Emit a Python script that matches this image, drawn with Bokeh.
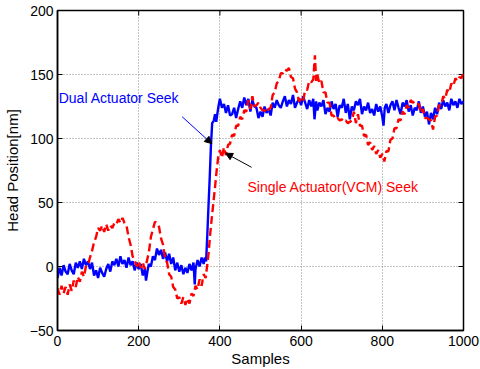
import math
from bokeh.plotting import figure
from bokeh.models import (ColumnDataSource, LinearAxis, FixedTicker, Label, Arrow,
                          NormalHead, Range1d)
from bokeh.embed import file_html
from bokeh.resources import INLINE

# ---------------- data ----------------
dual_x = [0, 5, 10, 15, 20, 25, 30, 35, 40, 45, 50, 55, 60, 65, 70, 75, 80, 85, 90, 95,
          100, 105, 110, 115, 120, 125, 130, 135, 140, 145, 150, 155, 160, 165, 170, 175,
          180, 185, 190, 195, 200, 205, 210, 215, 218, 222, 225, 230, 235, 240, 245, 250,
          255, 260, 265, 270, 275, 280, 285, 290, 295, 300, 305, 310, 315, 320, 325, 330,
          335, 338, 340, 345, 350, 355, 360, 363, 366, 369, 372, 375, 378, 381, 385, 388,
          391, 394, 397, 400, 405, 410, 415, 420, 425, 430, 435, 440, 445, 450, 455, 460,
          465, 470, 475, 480, 485, 490, 495, 500, 505, 510, 515, 520, 525, 530, 535, 540,
          545, 550, 555, 560, 565, 570, 575, 580, 585, 590, 595, 600, 605, 610, 615, 620,
          625, 630, 633, 637, 640, 645, 650, 655, 660, 665, 670, 675, 680, 685, 690, 695,
          700, 705, 710, 715, 720, 725, 730, 735, 740, 745, 750, 755, 760, 765, 770, 775,
          780, 785, 790, 795, 800, 803, 806, 810, 815, 820, 825, 830, 835, 840, 845, 850,
          855, 860, 865, 870, 875, 880, 885, 890, 895, 900, 905, 910, 915, 920, 925, 930,
          935, 940, 945, 950, 955, 960, 965, 970, 975, 980, 985, 990, 995, 1000]
dual_y = [-9, -1, -7, 1, -4, -6, 2, -3, -6, 3, -1, 4, -2, 6, 1, 4, -2, 3, -7, -3,
          -9, -1, -5, -8, -2, 2, -4, 4, 1, 6, 0, 8, 2, 5, -1, 7,
          1, 4, -3, 3, -2, 2, -7, -2, -11, -3, 2, 0, 8, 5, 14, 9,
          13, 6, 11, 4, 10, 2, 7, -3, 3, -4, 1, -6, -1, -5, 2, -3,
          3, -14, -2, 5, 0, 7, 2, 7, 4, 25, 48, 70, 95, 112, 114, 119,
          113, 120, 126, 131, 124, 127, 120, 126, 118, 119, 124, 116, 123, 129, 124, 132,
          126, 131, 121, 130, 125, 124, 116, 121, 117, 125, 120, 123, 118, 128, 124, 130,
          126, 124, 129, 133, 125, 130, 127, 134, 124, 128, 131, 126, 133, 128, 123, 130,
          125, 131, 115, 129, 122, 128, 125, 130, 119, 124, 121, 129, 123, 127, 117, 126,
          124, 131, 120, 127, 115, 125, 122, 129, 126, 131, 119, 125, 122, 128, 120, 123,
          118, 127, 121, 125, 117, 110, 124, 127, 120, 126, 129, 122, 130, 124, 119, 128,
          125, 130, 121, 126, 118, 124, 122, 129, 120, 125, 117, 121, 111, 120, 115, 124,
          119, 128, 123, 130, 125, 128, 122, 131, 126, 129, 124, 131, 127, 129]

single_x = [0, 5, 10, 15, 20, 25, 30, 35, 40, 45, 50, 55, 60, 65, 70, 75, 80, 85, 90, 95,
            100, 105, 110, 115, 120, 125, 130, 135, 140, 145, 150, 155, 160, 165, 170, 175,
            180, 185, 190, 195, 200, 205, 210, 215, 220, 225, 230, 235, 240, 245, 250, 255,
            260, 265, 270, 275, 280, 285, 290, 295, 300, 305, 310, 315, 320, 325, 330, 335,
            340, 345, 350, 355, 360, 365, 368, 372, 376, 380, 384, 388, 392, 396, 400, 405,
            410, 415, 420, 425, 430, 435, 440, 445, 450, 455, 460, 465, 470, 475, 480, 485,
            490, 495, 500, 505, 510, 515, 520, 525, 530, 535, 540, 545, 550, 555, 560, 565,
            570, 575, 580, 585, 590, 595, 600, 605, 610, 615, 620, 625, 630, 634, 637, 640,
            645, 650, 655, 660, 665, 670, 675, 680, 685, 690, 695, 700, 705, 710, 715, 720,
            725, 730, 735, 740, 745, 750, 755, 760, 765, 770, 775, 780, 785, 790, 795, 800,
            805, 810, 815, 820, 825, 830, 835, 840, 845, 850, 855, 860, 865, 870, 875, 880,
            885, 890, 895, 900, 905, 910, 915, 920, 925, 930, 935, 940, 945, 950, 955, 960,
            965, 970, 975, 980, 985, 990, 995, 1000]
single_y = [-17, -22, -15, -21, -16, -22, -14, -19, -11, -16, -8, -12, -4, -8, 0, 1, 7, 12, 19, 23,
            30, 28, 32, 27, 33, 28, 32, 30, 34, 33, 37, 34, 38, 34, 32, 23,
            17, 8, 5, 0, 4, -1, 3, -2, 4, 11, 23, 29, 35, 34, 31, 22,
            17, 6, 3, -6, -8, -16, -18, -25, -24, -29, -24, -30, -25, -29, -21, -23,
            -15, -18, -10, -15, -6, -9, -1, 10, 25, 38, 50, 62, 75, 86, 91, 85,
            93, 87, 95, 96, 103, 102, 110, 110, 117, 115, 122, 121, 130, 123, 133, 125,
            126, 128, 124, 122, 122, 120, 123, 124, 134, 136, 143, 145, 151, 151, 154, 153,
            155, 148, 147, 139, 136, 129, 131, 129, 138, 138, 145, 144, 146, 165, 145, 150,
            143, 145, 136, 136, 128, 128, 118, 118, 115, 116, 114, 115, 113, 114, 112, 113,
            114, 121, 112, 119, 110, 110, 102, 103, 95, 97, 91, 94, 88, 91, 85, 88,
            82, 90, 90, 99, 100, 108, 108, 115, 114, 121, 119, 126, 124, 130, 128, 129,
            127, 127, 120, 123, 116, 116, 115, 114, 107, 117, 118, 126, 126, 133, 131, 138,
            136, 143, 141, 147, 145, 148, 147, 152]

x_ticks = [0, 200, 400, 600, 800, 1000]
y_ticks = [-50, 0, 50, 100, 150, 200]
x_label = "Samples"
y_label = "Head Position[nm]"
dual_name = "Dual Actuator Seek"
single_name = "Single Actuator(VCM) Seek"

FONT = "Liberation Sans"

p = figure(width=480, height=369, output_backend="svg", toolbar_location=None,
           x_range=Range1d(0, 1000), y_range=Range1d(-50, 200),
           min_border_left=56, min_border_right=17, min_border_top=10, min_border_bottom=38,
           x_axis_location=None, y_axis_location=None)
p.background_fill_color = "white"
p.border_fill_color = "white"
p.outline_line_color = "black"
p.outline_line_width = 1.5


def make_axis(ticks, label_text):
    ax = LinearAxis(ticker=FixedTicker(ticks=ticks))
    ax.major_tick_in = 5
    ax.major_tick_out = 0
    ax.minor_tick_line_color = None
    ax.axis_line_color = "black"
    ax.axis_line_width = 1.5
    ax.major_tick_line_color = "black"
    ax.major_label_text_font = FONT
    ax.major_label_text_font_size = "14px"
    ax.major_label_text_color = "black"
    ax.axis_label = label_text
    ax.axis_label_text_font = FONT
    ax.axis_label_text_font_size = "15px"
    ax.axis_label_text_font_style = "normal"
    ax.axis_label_text_color = "black"
    return ax


xb = make_axis(x_ticks, x_label)
xb.major_label_standoff = 5
xb.axis_label_standoff = 1
yl = make_axis(y_ticks, y_label)
yl.major_label_standoff = 4
yl.axis_label_standoff = 6
yl.major_label_overrides = {-50: "\u221250"}
p.add_layout(xb, "below")
p.add_layout(yl, "left")

p.xgrid.ticker = FixedTicker(ticks=x_ticks)
p.ygrid.ticker = FixedTicker(ticks=y_ticks)
for g in (p.xgrid, p.ygrid):
    g.grid_line_color = "#888888"
    g.grid_line_dash = "1 2"
    g.grid_line_width = 1

# inward ticks on the top and right edges (MATLAB box style)
top_ticks = x_ticks[1:-1]
right_ticks = y_ticks[1:-1]
p.ray(x=top_ticks, y=[y_ticks[-1]] * len(top_ticks), length=5, length_units="screen",
      angle=-math.pi / 2, line_color="black", line_width=1)
p.ray(x=[x_ticks[-1]] * len(right_ticks), y=right_ticks, length=5, length_units="screen",
      angle=math.pi, line_color="black", line_width=1)

src_dual = ColumnDataSource(dict(x=dual_x, y=dual_y))
src_single = ColumnDataSource(dict(x=single_x, y=single_y))
p.line("x", "y", source=src_dual, line_color="#0000FF", line_width=2.4)
p.line("x", "y", source=src_single, line_color="#FF0000", line_width=2.4, line_dash="8 4")

p.add_layout(Label(x=3, y=131.5, text=dual_name, text_color="#0000FF",
                   text_font=FONT, text_font_size="14px", text_baseline="alphabetic"))
p.add_layout(Label(x=468, y=62.5, text=single_name, text_color="#FF0000",
                   text_font=FONT, text_font_size="14px", text_baseline="alphabetic"))

p.add_layout(Arrow(x_start=307, y_start=117, x_end=380, y_end=96,
                   line_color="#0000FF", line_width=1,
                   end=NormalHead(size=7, fill_color="black", line_color="black")))
p.add_layout(Arrow(x_start=478, y_start=77.5, x_end=414, y_end=88.5,
                   line_color="black", line_width=1,
                   end=NormalHead(size=7, fill_color="black", line_color="black")))

open("out.html", "w").write(file_html(p, INLINE))
